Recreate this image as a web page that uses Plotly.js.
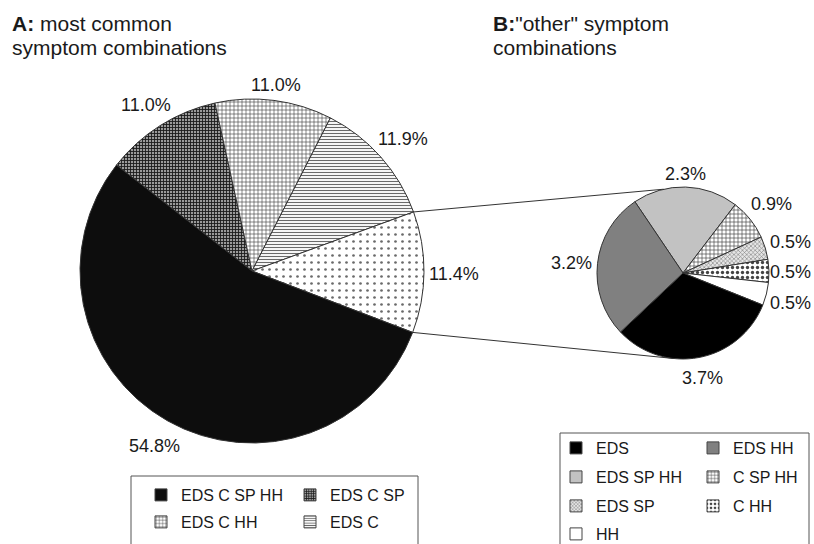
<!DOCTYPE html>
<html>
<head>
<meta charset="utf-8">
<script src="https://cdn.plot.ly/plotly-3.0.1.min.js"></script>
<style>html,body{margin:0;padding:0;background:#fff;}#chart{width:814px;height:544px;}</style>
</head>
<body>
<div id="chart"></div>
<script>
// ---- data ----
const catsA = ['EDS C SP', 'EDS C HH', 'EDS C', 'other', 'EDS C SP HH'];
const valsA = [11.0, 11.0, 11.9, 11.4, 54.8];
const catsB = ['EDS SP HH', 'C SP HH', 'EDS SP', 'C HH', 'HH', 'EDS', 'EDS HH'];
const valsB = [2.3, 0.9, 0.5, 0.5, 0.5, 3.7, 3.2];
const legendRowsA = [['EDS C SP HH', 'EDS C SP'], ['EDS C HH', 'EDS C']];
const legendRowsB = [['EDS', 'EDS HH'], ['EDS SP HH', 'C SP HH'], ['EDS SP', 'C HH'], ['HH']];
const titleLinesA = ['<b>A:</b> most common', 'symptom combinations'];
const titleLinesB = ['<b>B:</b>"other" symptom', 'combinations'];
const otherCat = 'other';

// ---- styles ----
const FONT = 'Liberation Sans, Arial, sans-serif';
const LABEL_FS = 18;
const W = 814, H = 544;
const styles = {
  'EDS C SP HH': {color: '#0d0d0d', shape: '', fg: '#0d0d0d', size: 8, sol: 0.3},
  'EDS C SP':    {color: '#9a9a9a', shape: '+', fg: '#1a1a1a', size: 3, sol: 0.5},
  'EDS C HH':    {color: '#ffffff', shape: '+', fg: '#3a3a3a', size: 4, sol: 0.28},
  'EDS C':       {color: '#ffffff', shape: '-', fg: '#6a6a6a', size: 3, sol: 0.38},
  'other':       {color: '#ffffff', shape: '.', fg: '#6a6a6a', size: 7, sol: 0.12},
  'EDS':         {color: '#000000', shape: '', fg: '#000000', size: 8, sol: 0.3},
  'EDS HH':      {color: '#808080', shape: '', fg: '#808080', size: 8, sol: 0.3},
  'EDS SP HH':   {color: '#c2c2c2', shape: '', fg: '#c2c2c2', size: 8, sol: 0.3},
  'C SP HH':     {color: '#ffffff', shape: '+', fg: '#404040', size: 4, sol: 0.3},
  'EDS SP':      {color: '#e6e6e6', shape: 'x', fg: '#7a7a7a', size: 3, sol: 0.35},
  'C HH':        {color: '#ffffff', shape: '.', fg: '#444444', size: 5, sol: 0.35},
  'HH':          {color: '#ffffff', shape: '', fg: '#ffffff', size: 8, sol: 0.3}
};
function pat(cats) {
  return {
    shape: cats.map(c => styles[c].shape),
    fgcolor: cats.map(c => styles[c].fg),
    bgcolor: cats.map(c => styles[c].color),
    size: cats.map(c => styles[c].size),
    solidity: cats.map(c => styles[c].sol),
    fillmode: 'replace'
  };
}

const domA = {x: [80 / W, 424 / W], y: [1 - 443 / H, 1 - 99 / H]};
const domB = {x: [597 / W, 769 / W], y: [1 - 359 / H, 1 - 187 / H]};
const rotA = -52, rotB = -34;

const pieCommon = {
  type: 'pie', sort: false, direction: 'clockwise', showlegend: false,
  textinfo: 'none', hoverinfo: 'skip', automargin: false
};
const traces = [
  Object.assign({}, pieCommon, {
    labels: catsA, values: valsA, rotation: rotA, domain: domA,
    marker: {colors: catsA.map(c => styles[c].color), line: {color: '#333', width: 1}, pattern: pat(catsA)}
  }),
  Object.assign({}, pieCommon, {
    labels: catsB, values: valsB, rotation: rotB, domain: domB,
    marker: {colors: catsB.map(c => styles[c].color), line: {color: '#333', width: 1}, pattern: pat(catsB)}
  })
];

// legend entries (one legend per row)
const legends = {};
let li = 1;
function addRows(rows, x0, rowYs, entryW) {
  rows.forEach((row, r) => {
    const key = li === 1 ? 'legend' : 'legend' + li;
    legends[key] = {
      orientation: 'h', x: x0 / W, y: 1 - rowYs[r] / H, xanchor: 'left', yanchor: 'middle',
      bgcolor: 'rgba(0,0,0,0)', borderwidth: 0, entrywidth: entryW, entrywidthmode: 'pixels',
      font: {family: FONT, size: 16, color: '#1a1a1a'}, itemclick: false, itemdoubleclick: false,
      traceorder: 'normal'
    };
    row.forEach(c => {
      const s = styles[c];
      traces.push({
        type: 'bar', x: [null], y: [null], name: c, legend: key, showlegend: true, hoverinfo: 'skip',
        marker: {color: s.color, line: {color: '#444', width: 1},
                 pattern: {shape: s.shape, fgcolor: s.fg, bgcolor: s.color, size: s.size, solidity: s.sol}}
      });
    });
    li++;
  });
}
addRows(legendRowsA, 141, [495, 522], 104);
addRows(legendRowsB, 556, [448, 477, 506, 534], 92);

// geometry helpers
function pieGeom(dom) {
  const w = (dom.x[1] - dom.x[0]) * W, h = (dom.y[1] - dom.y[0]) * H;
  return {cx: (dom.x[0] + dom.x[1]) / 2 * W, cy: (1 - (dom.y[0] + dom.y[1]) / 2) * H, r: Math.min(w, h) / 2};
}
function ptPx(g, deg, rad) {
  const a = deg * Math.PI / 180;
  return [g.cx + rad * Math.sin(a), g.cy - rad * Math.cos(a)];
}
function pt(g, deg) {
  const p = ptPx(g, deg, g.r);
  return [p[0] / W, 1 - p[1] / H];
}
const gA = pieGeom(domA), gB = pieGeom(domB);

// percentage labels placed just outside each slice (from data angles)
const ctx = document.createElement('canvas').getContext('2d');
ctx.font = LABEL_FS + 'px ' + FONT;
const annotations = [];
function addLabels(vals, rot, g) {
  const tot = vals.reduce((a, b) => a + b, 0);
  let cum = 0;
  vals.forEach(v => {
    const mid = rot + 360 * (cum + v / 2) / tot;
    cum += v;
    const txt = v.toFixed(1) + '%';
    const w = ctx.measureText(txt).width, h = LABEL_FS * 1.1;
    const a = mid * Math.PI / 180;
    const k = 0.5 * (Math.abs(Math.sin(a)) * w + Math.abs(Math.cos(a)) * h) + 5;
    let p = ptPx(g, mid, g.r + k);
    p[0] = Math.min(p[0], W - 3 - w / 2);
    p[1] += 2;
    annotations.push({text: txt, xref: 'paper', yref: 'paper', x: p[0] / W, y: 1 - p[1] / H,
      xanchor: 'center', yanchor: 'middle', showarrow: false, borderpad: 0,
      font: {family: FONT, size: LABEL_FS, color: '#1a1a1a'}});
  });
}
addLabels(valsA, rotA, gA);
addLabels(valsB, rotB, gB);
function addTitle(lines, x0) {
  lines.forEach((t, i) => {
    annotations.push({text: t, xref: 'paper', yref: 'paper', x: x0 / W, y: 1 - (24 + 23.5 * i) / H,
      xanchor: 'left', yanchor: 'middle', align: 'left', showarrow: false, borderpad: 0,
      font: {family: FONT, size: 21, color: '#1a1a1a'}});
  });
}
addTitle(titleLinesA, 11);
addTitle(titleLinesB, 492);

// connector lines from the "other" slice to pie B
const totA = valsA.reduce((a, b) => a + b, 0);
const idx = catsA.indexOf(otherCat);
const before = valsA.slice(0, idx).reduce((a, b) => a + b, 0);
const a0 = rotA + 360 * before / totA, a1 = a0 + 360 * valsA[idx] / totA;
const pA0 = pt(gA, a0), pA1 = pt(gA, a1), pB0 = pt(gB, -13), pB1 = pt(gB, 186);
const lineStyle = {color: '#333', width: 1};
const shapes = [
  {type: 'line', xref: 'paper', yref: 'paper', x0: pA0[0], y0: pA0[1], x1: pB0[0], y1: pB0[1], line: lineStyle, layer: 'below'},
  {type: 'line', xref: 'paper', yref: 'paper', x0: pA1[0], y0: pA1[1], x1: pB1[0], y1: pB1[1], line: lineStyle, layer: 'below'},
  {type: 'rect', xref: 'paper', yref: 'paper', x0: 131 / W, x1: 418 / W, y0: -0.02, y1: 1 - 476 / H, line: {color: '#555', width: 1}},
  {type: 'rect', xref: 'paper', yref: 'paper', x0: 560 / W, x1: 809 / W, y0: -0.02, y1: 1 - 433 / H, line: {color: '#555', width: 1}}
];

const layout = Object.assign({
  width: W, height: H, margin: {l: 0, r: 0, t: 0, b: 0, pad: 0, autoexpand: false},
  paper_bgcolor: '#fff', plot_bgcolor: 'rgba(0,0,0,0)',
  font: {family: FONT, color: '#1a1a1a'},
  xaxis: {visible: false, fixedrange: true}, yaxis: {visible: false, fixedrange: true},
  hovermode: false, shapes: shapes, annotations: annotations
}, legends);

Plotly.newPlot('chart', traces, layout, {staticPlot: true, displayModeBar: false});
</script>
</body>
</html>
